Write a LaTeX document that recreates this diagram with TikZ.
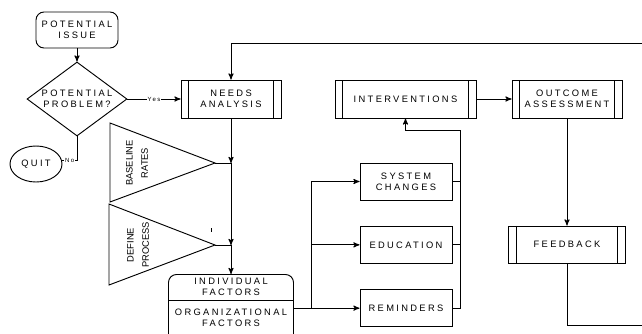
\documentclass[tikz,border=0pt]{standalone}
\usepackage{fontspec}
\setmainfont{Liberation Sans}
\newfontfamily\boxfont[LetterSpace=25]{Liberation Sans}
\usetikzlibrary{arrows, positioning, shapes.geometric}
\tikzset{
  boxtext/.style={font={\boxfont\fontsize{7}{8}\selectfont}, align=center, inner sep=0pt},
  plainbox/.style={boxtext, draw, minimum width=69pt, minimum height=27.75pt},
  procbox/.style={boxtext, draw, minimum height=28.5pt, path picture={
    \draw ([xshift=5.8pt]path picture bounding box.north west) -- ([xshift=5.8pt]path picture bounding box.south west);
    \draw ([xshift=-5.8pt]path picture bounding box.north east) -- ([xshift=-5.8pt]path picture bounding box.south east);}},
  tritext/.style={font={\fontsize{7}{11.5}\selectfont}, align=center, rotate=90, inner sep=0pt},
  yesno/.style={font={\boxfont\fontsize{4.5}{5}\selectfont}, fill=white, inner sep=0.6pt},
}

\begin{document}
\begin{tikzpicture}[x=0.75pt, y=-0.75pt, >=stealth', line width=0.7pt, node distance=47.5pt]
\useasboundingbox (0,0) rectangle (642,333);
\clip (0,0) rectangle (642,333);
\node[boxtext, draw, rounded corners=6pt, minimum width=61.5pt, minimum height=27pt] (issue) at (77,30) {POTENTIAL\\ISSUE};
\node[boxtext, draw, diamond, aspect=1.35, minimum width=75pt, minimum height=55.5pt] (prob) at (77,99) {POTENTIAL\\PROBLEM?};
\node[boxtext, draw, ellipse, minimum width=39pt, minimum height=27pt] (quit) at (36,164) {QUIT};
\node[procbox, minimum width=75pt] (needs) at (231,99) {NEEDS\\ANALYSIS};
\node[procbox, minimum width=105.75pt] (interv) at (405.5,99) {INTERVENTIONS};
\node[procbox, minimum width=82.5pt] (outc) at (567,99) {OUTCOME\\ASSESSMENT};
\node[procbox, minimum width=87.75pt, minimum height=27.75pt, below of=outc, node distance=109.1pt] (feedb) {FEEDBACK};
\node[plainbox] (sysch) at (406,181.5) {SYSTEM\\CHANGES};
\node[plainbox, below of=sysch] (educ) {EDUCATION};
\node[plainbox, below of=educ] (remind) {REMINDERS};
% factors box, bottom runs off the page
\node[draw, rounded corners=6pt, minimum width=93.75pt, minimum height=52.5pt, anchor=north] (factors) at (231,274) {};
\coordinate (divy) at (0,300);
\draw (factors.west |- divy) -- (factors.east |- divy);
\node[boxtext] (indiv) at (231,287) {INDIVIDUAL\\FACTORS};
\node[boxtext] (orgf) at (231,318) {ORGANIZATIONAL\\FACTORS};
% triangles
\draw (110,123) -- (215,163) coordinate (baseA) -- (110,202) -- cycle;
\node[tritext] (baserate) at (137,163) {BASELINE\\RATES};
\draw (109,204) -- (215,245) coordinate (procA) -- (109,285) -- cycle;
\node[tritext] (defproc) at (138,245) {DEFINE\\PROCESS};
\draw (211,228) -- (211,232);
% connectors
\draw[->] (issue) -- (prob);
\draw[->] (prob) -- node[yesno]{Yes} (needs);
\draw (prob) |- node[yesno, pos=0.75]{No} ([yshift=3pt]quit.east);
\draw[->] (needs) -- (needs.south |- baseA) coordinate (j1);
\draw[->] (j1) -- (j1 |- procA) coordinate (j2);
\draw[->] (j2) -- (factors);
\draw (baseA) -- (j1);
\draw (procA) -- (j2);
\draw (factors.east |- remind) -- ++(17,0) coordinate (fork);
\draw[->] (fork) -- (remind);
\draw[->] (fork) |- (educ);
\draw[->] (fork) |- (sysch);
\coordinate (merge) at (460,130);
\draw[->] (remind) -| (merge) -| (interv);
\draw (sysch) -- (sysch -| merge);
\draw (educ) -- (educ -| merge);
\draw[->] (interv) -- (outc);
\draw[->] (outc) -- (feedb);
\coordinate (loopR) at (660,325);
\coordinate (topL) at (231,43);
\draw[->] (feedb) |- (loopR) |- (topL) -- (needs);
\end{tikzpicture}
\end{document}
